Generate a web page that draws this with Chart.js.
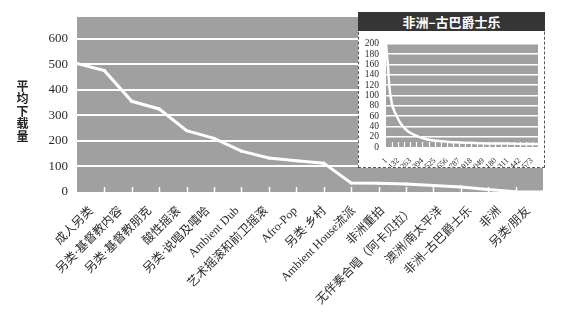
<!DOCTYPE html>
<html>
<head>
<meta charset="utf-8">
<script src="https://cdn.jsdelivr.net/npm/chart.js@4.4.1/dist/chart.umd.min.js"></script>
<style>
  body { margin: 0; background: #fff; }
  #wrap { position: relative; width: 568px; height: 326px; }
  #main-box { position: absolute; left: 0; top: 0; width: 568px; height: 326px; }
  #ytitle { position: absolute; left: 15px; top: 80px; writing-mode: vertical-rl; white-space: nowrap; font: bold 12px "Noto Sans CJK SC"; color: #222; line-height: 14px; letter-spacing: 0.5px; }
  #inset { position: absolute; left: 358px; top: 12px; width: 187px; height: 156px; background: #fff; border: 1px dashed #555; border-top: none; box-sizing: border-box; }
  #inset-title { height: 19px; background: #353535; color: #fff; font: bold 13px "Noto Sans CJK SC"; text-align: center; line-height: 19px; margin: 0 -1px; }
  #inset-box { position: relative; width: 185px; height: 136px; }
</style>
</head>
<body>
<div id="wrap">
  <div id="main-box"><canvas id="chart-main"></canvas></div>
  <div id="ytitle">平均下载量</div>
  <div id="inset">
    <div id="inset-title">非洲–古巴爵士乐</div>
    <div id="inset-box"><canvas id="chart-inset"></canvas></div>
  </div>
</div>
<script>
// main chart: genres and average downloads
const genres = ['成人另类', '另类·基督教内容', '另类·基督教朋克', '酸性摇滚', '另类·说唱及嘻哈',
    'Ambient Dub', '艺术摇滚和前卫摇滚', 'Afro-Pop', '另类·乡村', 'Ambient House流派', '非洲重拍',
    '无伴奏合唱（阿卡贝拉）', '澳洲/南太平洋', '非洲–古巴爵士乐', '非洲', '另类/朋友'];
const avgDownloads = [503, 475, 355, 325, 240, 210, 160, 133, 122, 113, 35, 34, 31, 25, 20, 10, 1, 0];
const mainYTicks = [0, 100, 200, 300, 400, 500, 600];

// inset: 非洲–古巴爵士乐 downloads by rank
const insetRank = [1, 10, 22, 32, 43, 55, 65, 90, 119, 150, 184, 240, 313, 400, 497, 620, 745, 900, 1100, 1300, 1500, 1640];
const insetDownloads = [200, 180, 157, 130, 107, 94, 83, 70, 59, 48, 40, 30, 23, 17, 13, 11, 9, 8, 7, 7, 6, 6];
const insetXTicks = [1, 132, 263, 394, 525, 656, 787, 918, 1049, 1180, 1311, 1442, 1573];

const GRAY = '#a0a0a0';
const SERIF = '"Liberation Serif", "Noto Sans CJK SC", serif';

// gray plot area + small white tick marks at the bottom
const plotBg = {
    id: 'plotBg',
    beforeDraw(chart, args, o) {
        const { ctx, chartArea: a } = chart;
        ctx.save();
        ctx.fillStyle = o.color;
        ctx.fillRect(a.left, a.top, a.right - a.left, a.bottom - a.top);
        ctx.restore();
    },
    beforeDatasetsDraw(chart, args, o) {
        const { ctx, chartArea: a } = chart;
        const s = chart.scales[o.scale];
        ctx.save();
        ctx.strokeStyle = '#fff';
        ctx.lineWidth = o.width;
        for (let v = s.min + o.step; v < s.max; v += o.step) {
            const x = Math.round(s.getPixelForValue(v)) + 0.5;
            ctx.beginPath();
            ctx.moveTo(x, a.bottom);
            ctx.lineTo(x, a.bottom - o.len);
            ctx.stroke();
        }
        ctx.restore();
    }
};

new Chart(document.getElementById('chart-main'), {
    type: 'line',
    data: {
        labels: genres,
        datasets: [{
            data: avgDownloads.map((v, i) => ({ x: i, y: v })),
            xAxisID: 'xp',
            borderColor: '#fff', borderWidth: 3,
            pointStyle: 'rect', pointRadius: 2, pointBackgroundColor: '#fff', pointBorderWidth: 0,
            tension: 0
        }]
    },
    plugins: [plotBg],
    options: {
        responsive: true, maintainAspectRatio: false, animation: false,
        layout: { padding: { top: 17, right: 25, left: 0, bottom: 0 } },
        plugins: {
            legend: { display: false }, tooltip: { enabled: false },
            plotBg: { color: GRAY, scale: 'xp', step: 1, len: 5, width: 1.5 }
        },
        scales: {
            x: {
                type: 'category', offset: true,
                grid: { display: false }, border: { display: false },
                ticks: { autoSkip: false, minRotation: 45, maxRotation: 45, padding: 4, color: '#2a2a2a', font: { family: SERIF, size: 12 } },
                afterFit: s => { s.height = 134; }
            },
            xp: { type: 'linear', min: 0, max: avgDownloads.length - 1, display: false },
            y: {
                min: 0, max: 685,
                afterBuildTicks: s => { s.ticks = mainYTicks.map(v => ({ value: v })); },
                grid: { color: c => c.tick && c.tick.value === 0 ? 'rgba(0,0,0,0)' : '#fff', lineWidth: 2, drawTicks: false },
                border: { display: false },
                ticks: { padding: 9, color: '#2a2a2a', font: { family: SERIF, size: 13 } },
                afterFit: s => { s.width = 77; }
            }
        }
    }
});

new Chart(document.getElementById('chart-inset'), {
    type: 'line',
    data: {
        datasets: [{
            data: insetRank.map((r, i) => ({ x: r, y: insetDownloads[i] })),
            borderColor: '#fff', borderWidth: 2.5,
            pointRadius: 0, cubicInterpolationMode: 'monotone'
        }]
    },
    plugins: [plotBg],
    options: {
        responsive: true, maintainAspectRatio: false, animation: false,
        layout: { padding: { top: 10, right: 6, left: 0, bottom: 0 } },
        plugins: {
            legend: { display: false }, tooltip: { enabled: false },
            plotBg: { color: GRAY, scale: 'x', step: 65.5, len: 5, width: 1.2 }
        },
        scales: {
            x: {
                type: 'linear', min: 1, max: 1640,
                afterBuildTicks: s => { s.ticks = insetXTicks.map(v => ({ value: v })); },
                grid: { display: false }, border: { display: false },
                ticks: { autoSkip: false, minRotation: 45, maxRotation: 45, padding: 1, color: '#2a2a2a', font: { family: SERIF, size: 8 } },
                afterFit: s => { s.height = 20; }
            },
            y: {
                min: 0, max: 200,
                ticks: { stepSize: 20, autoSkip: false, padding: 7, color: '#2a2a2a', font: { family: SERIF, size: 9.5 } },
                grid: { color: c => c.tick && c.tick.value === 0 ? 'rgba(0,0,0,0)' : '#fff', lineWidth: 1.5, drawTicks: false },
                border: { display: false },
                afterFit: s => { s.width = 27; }
            }
        }
    }
});
</script>
</body>
</html>
